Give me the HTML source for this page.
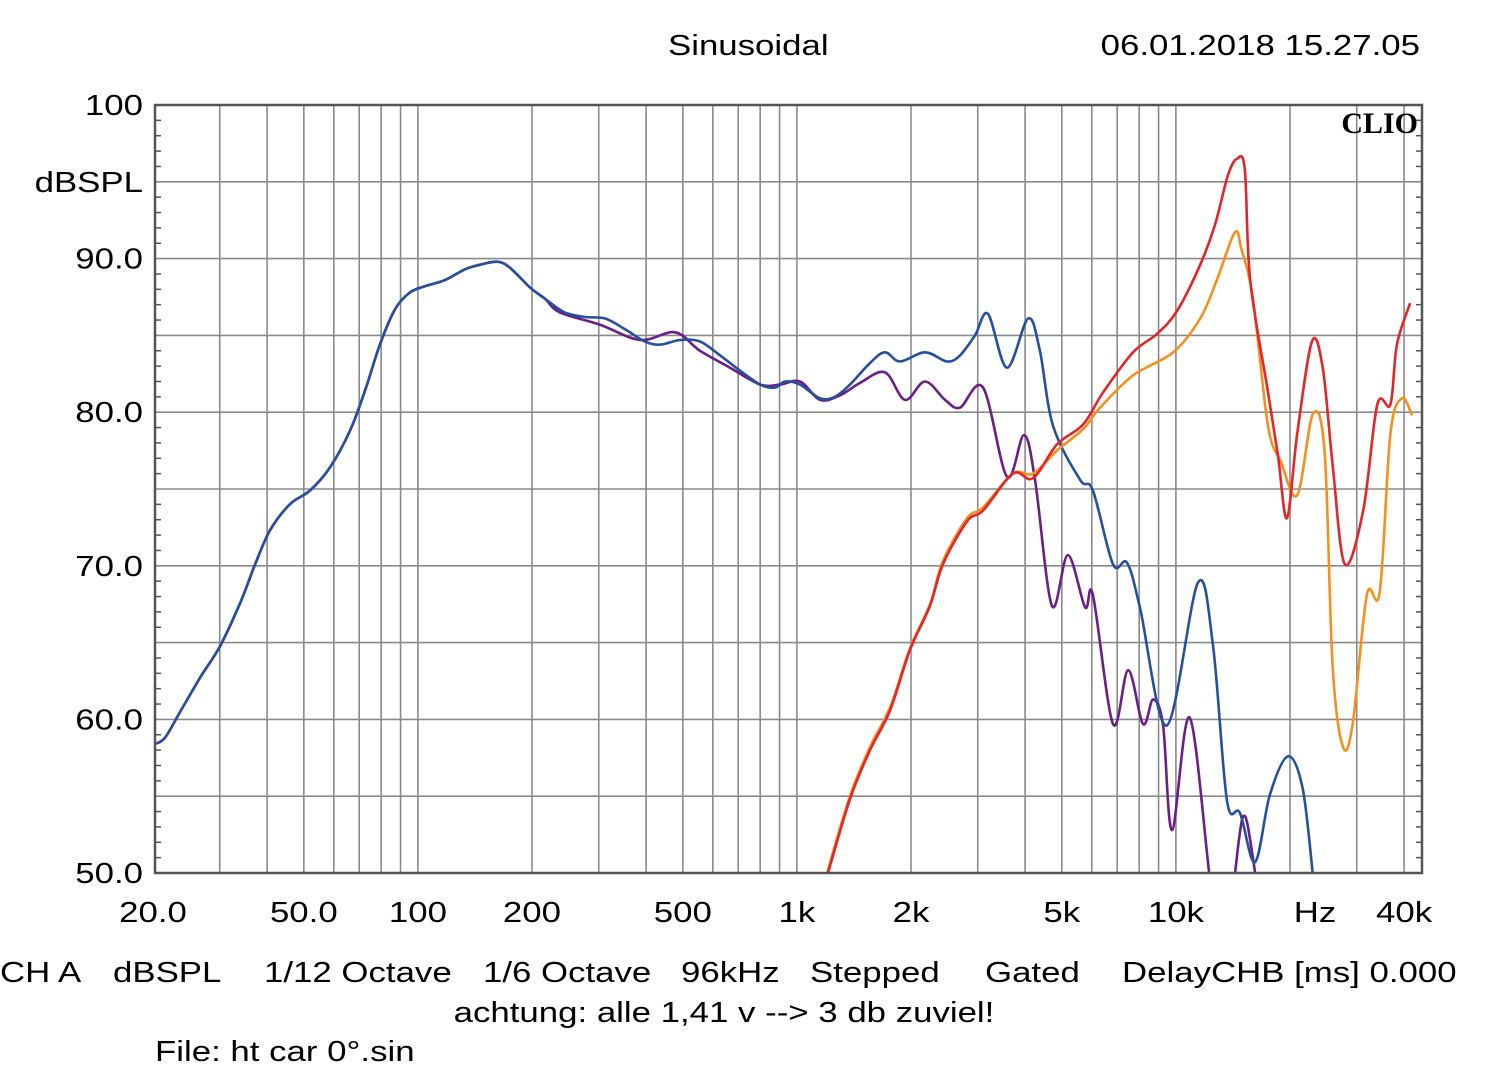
<!DOCTYPE html>
<html><head><meta charset="utf-8"><style>
html,body{margin:0;padding:0;background:#fff;}
svg{display:block;}
text{font-family:"Liberation Sans",Arial,sans-serif;font-size:29px;fill:#000;}
</style></head><body>
<svg id="chart" width="1500" height="1086" viewBox="0 0 1500 1086" xmlns="http://www.w3.org/2000/svg">
<rect width="1500" height="1086" fill="#fff"/>
<g id="grid"></g>
<g id="series"></g>
<rect x="155" y="105" width="1267" height="768" fill="none" stroke="#555" stroke-width="2.5"/>
<g id="labels"></g>
<text class="w" x="668" y="55">Sinusoidal</text>
<text class="w" x="1420" y="55" text-anchor="end">06.01.2018 15.27.05</text>
<text x="1418" y="133" text-anchor="end" style="font-family:'Liberation Serif',serif;font-weight:bold;font-size:30px">CLIO</text>
<text class="w" x="143" y="192" text-anchor="end">dBSPL</text>
<text class="w" x="1315" y="922" text-anchor="middle">Hz</text>
<text y="982">
<tspan class="w" x="0">CH A</tspan><tspan class="w" x="113">dBSPL</tspan><tspan class="w" x="264">1/12 Octave</tspan><tspan class="w" x="483">1/6 Octave</tspan><tspan class="w" x="681">96kHz</tspan><tspan class="w" x="810">Stepped</tspan><tspan class="w" x="985">Gated</tspan><tspan class="w" x="1122">DelayCHB [ms] 0.000</tspan></text>
<text class="w" x="724" y="1022" text-anchor="middle">achtung: alle 1,41 v --&gt; 3 db zuviel!</text>
<text class="w" x="155" y="1061">File: ht car 0°.sin</text>
</svg>
<script>
const yTicks=[100,90,80,70,60,50];
const yTickLabels=["100","90.0","80.0","70.0","60.0","50.0"];
const xTicks=[20,50,100,200,500,1000,2000,5000,10000,40000];
const xTickLabels=["20.0","50.0","100","200","500","1k","2k","5k","10k","40k"];
const blueF=[20.2,21.5,23.6,26.6,30.1,34,37.2,40.7,45.9,51.9,58.6,66.2,72.5,79.4,87,95.3,104.4,117.9,133,146,162,175,198,216,244,276,312,352,397,436,492,555,627,708,800,875,931,1019,1151,1259,1380,1559,1707,1870,2178,2489,2693,2951,3193,3583,4074,4376,4742,5586,6040,6825,7430,8036,9464,11430,12530,13640,14760,16170,17700,19770,21600,23000];
const blueDB=[58.4,58.8,60.5,62.7,64.8,67.6,70.1,72.3,74.0,74.9,76.4,78.8,81.4,84.4,86.7,87.8,88.2,88.6,89.3,89.6,89.8,89.4,88.1,87.4,86.5,86.2,86.1,85.4,84.6,84.4,84.7,84.6,83.7,82.7,81.8,81.6,82.0,81.8,80.9,81.0,81.8,83.2,83.9,83.3,83.9,83.3,83.7,85.0,86.4,82.9,86.1,84.0,79.1,75.6,74.9,70.1,70.2,67.3,59.6,68.9,64.8,54.7,53.9,50.7,55.1,57.6,55.5,49.8];
const purpleF=[20.2,21.5,23.6,26.6,30.1,34,37.2,40.7,45.9,51.9,58.6,66.2,72.5,79.4,87,95.3,104.4,117.9,133,146,162,175,198,216,237,302,386,477,555,666,800,902,1019,1151,1300,1466,1707,1928,2178,2460,2693,3099,3583,3972,4249,4709,5189,5758,6040,6825,7482,8187,8711,9250,9770,10890,12450,13500,13900,15000,15960,16900];
const purpleDB=[58.4,58.8,60.5,62.7,64.8,67.6,70.1,72.3,74.0,74.9,76.4,78.8,81.4,84.4,86.7,87.8,88.2,88.6,89.3,89.6,89.8,89.4,88.1,87.4,86.5,85.7,84.7,85.2,84.0,82.9,81.8,81.8,82.0,80.8,81.1,81.9,82.6,80.8,82.0,80.8,80.3,81.6,75.8,78.5,75.6,67.4,70.7,67.3,68.1,59.7,63.2,59.7,61.3,59.6,52.8,60.1,48.5,45,47,53.6,51.0,46];
const redF=[1116,1208,1380,1559,1762,1986,2245,2427,2812,3099,3717,4198,4853,5689,6430,7709,8913,10070,11590,12680,13710,14490,15200,15700,17500,18600,19640,20900,22850,24400,25900,27900,31200,34000,36800,38300,41500];
const redDB=[47,50.0,54.8,58.0,60.6,64.5,67.4,70.1,72.9,73.6,76.0,75.7,77.9,79.2,81.3,83.9,85.1,86.6,89.6,92.2,95.4,96.5,95.8,88.6,81.3,77.1,73.1,78.6,84.6,82.9,76.6,70.1,73.6,80.5,80.5,84.4,87.1];
const orangeF=[1116,1208,1380,1559,1762,1986,2245,2427,2812,3099,3717,4198,4853,5689,6311,7709,9840,11590,12820,14300,14900,15960,17500,18900,20900,23000,24700,25900,27600,29300,31900,34500,36800,39500,42000];
const orangeDB=[47,50.2,55.0,58.2,60.8,64.6,67.5,70.3,73.1,73.8,76.0,76.0,77.5,78.9,80.3,82.4,83.9,86.1,88.6,91.7,90.6,87.4,79.1,76.8,74.6,79.9,77.3,63.5,58.2,59.8,68.1,68.3,78.6,80.9,79.8];

const L=155,R=1422,T=105,B=873;
function xs(f){return 153+379*Math.log10(f/20);}
function ys(d){return T+(100-d)*(B-T)/50;}
const NS="http://www.w3.org/2000/svg";
const grid=document.getElementById('grid');
const labels=document.getElementById('labels');
function mk(tag,attrs,parent){const e=document.createElementNS(NS,tag);for(const k in attrs)e.setAttribute(k,attrs[k]);parent.appendChild(e);return e;}
const gf=[];
for(let dec=10;dec<=10000;dec*=10){for(let m=1;m<=9;m++){const f=dec*m;if(f>20&&xs(f)<R-2)gf.push(f);}}
gf.forEach(f=>{
  const l=mk('line',{x1:xs(f),x2:xs(f),y1:T,y2:B,stroke:'#8a8a8a','stroke-width':1.6},grid);
  
  
});
for(let d=55;d<100;d+=5){
  const l=mk('line',{x1:L,x2:R,y1:ys(d),y2:ys(d),stroke:'#8a8a8a','stroke-width':1.6},grid);
  
  
}
for(let d=51;d<100;d++){
  if(d%5===0)continue;
  const a=mk('line',{x1:L,x2:L+6,y1:ys(d),y2:ys(d),stroke:'#555','stroke-width':1.5},grid);
  
  
  const b=mk('line',{x1:R-6,x2:R,y1:ys(d),y2:ys(d),stroke:'#555','stroke-width':1.5},grid);
  
  
}
yTicks.forEach((d,i)=>{
  const t=mk('text',{x:143,y:ys(d)+10,'text-anchor':'end','class':'w'},labels);t.textContent=yTickLabels[i];
  
  
});
xTicks.forEach((f,i)=>{
  const t=mk('text',{x:xs(f),y:922,'text-anchor':'middle','class':'w'},labels);t.textContent=xTickLabels[i];
  
  
});
const ser=document.getElementById('series');
const cp=mk('clipPath',{id:'clip'},ser);mk('rect',{x:L,y:T,width:R-L,height:B-T},cp);
function path(F,D){
  const p=F.map((f,i)=>[xs(f),ys(D[i])]);
  let s='M'+p[0][0].toFixed(1)+','+p[0][1].toFixed(1);
  for(let i=0;i<p.length-1;i++){
    const p0=p[i-1]||p[i],p1=p[i],p2=p[i+1],p3=p[i+2]||p2;
    const c1=[p1[0]+(p2[0]-p0[0])/6,p1[1]+(p2[1]-p0[1])/6];
    const c2=[p2[0]-(p3[0]-p1[0])/6,p2[1]-(p3[1]-p1[1])/6];
    s+='C'+c1.map(v=>v.toFixed(1))+' '+c2.map(v=>v.toFixed(1))+' '+p2.map(v=>v.toFixed(1));
  }
  return s;
}
function draw(F,D,color,name){
  const e=mk('path',{d:path(F,D),fill:'none',stroke:color,'stroke-width':2.6,'stroke-linejoin':'round','clip-path':'url(#clip)'},ser);
  
  
}
draw(purpleF,purpleDB,'#6a1f86','purple-curve');
draw(blueF,blueDB,'#27509c','blue-curve');
draw(orangeF,orangeDB,'#f5901f','orange-curve');
draw(redF,redDB,'#e2262a','red-curve');
// widen text to match the reference's stretched font
document.querySelectorAll('.w').forEach(t=>{
  const len=t.getComputedTextLength();
  t.setAttribute('textLength',(len*1.2).toFixed(1));
  t.setAttribute('lengthAdjust','spacingAndGlyphs');
});
</script>
</body></html>
